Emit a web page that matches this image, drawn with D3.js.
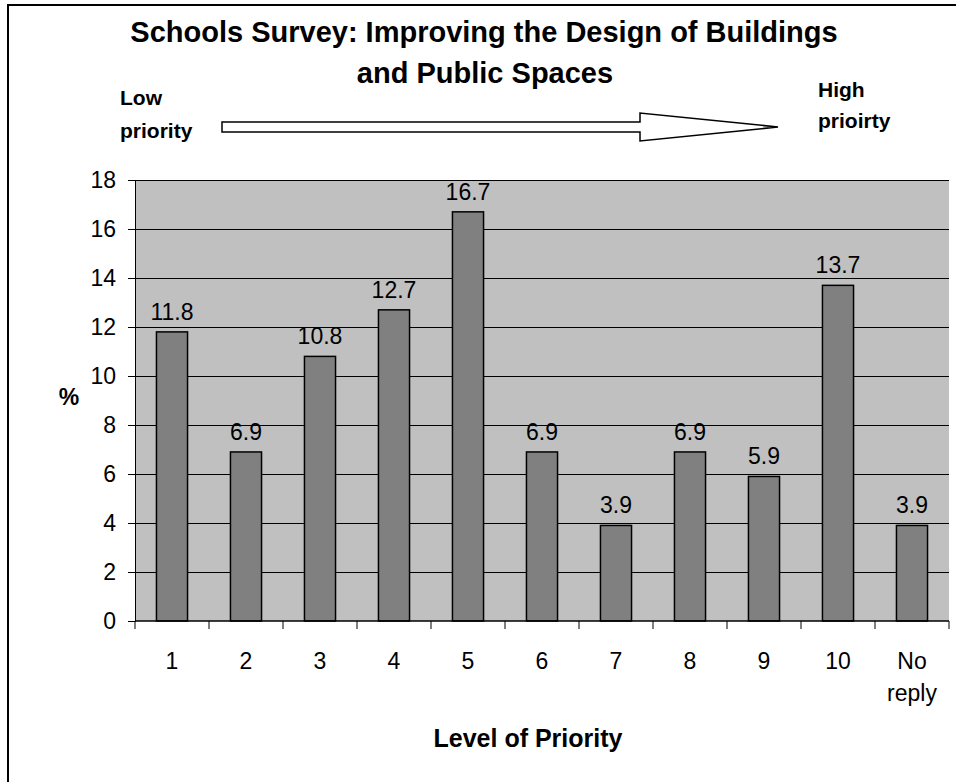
<!DOCTYPE html>
<html><head><meta charset="utf-8">
<script src="https://cdn.jsdelivr.net/npm/d3@7"></script>
<style>body{margin:0;background:#fff}svg{display:block}</style>
</head><body>
<script>
const categories = ["1","2","3","4","5","6","7","8","9","10","No reply"];
const values = [11.8, 6.9, 10.8, 12.7, 16.7, 6.9, 3.9, 6.9, 5.9, 13.7, 3.9];
const yTicks = [0,2,4,6,8,10,12,14,16,18];
const titleLines = ["Schools Survey: Improving the Design of Buildings", "and Public Spaces"];
const xTitle = "Level of Priority";
const yTitle = "%";

const W = 956, H = 782;
const FONT = "'Liberation Sans', Arial, sans-serif";
const svg = d3.select("body").append("svg").attr("width", W).attr("height", H)
  .style("font-family", FONT);

// outer frame
svg.append("line").attr("x1",8).attr("x2",8).attr("y1",5).attr("y2",H).attr("stroke","#000").attr("stroke-width",2);
svg.append("line").attr("x1",7).attr("x2",W).attr("y1",5).attr("y2",5).attr("stroke","#000").attr("stroke-width",2);

const L = 135, R = 949, T = 180, B = 621;
const x = d3.scaleBand().domain(categories).range([L, R]).paddingInner(0.58).paddingOuter(0.29);
const y = d3.scaleLinear().domain([0, 18]).range([B, T]);

// plot background
svg.append("rect").attr("x", L).attr("y", T).attr("width", R - L).attr("height", B - T).attr("fill", "#C0C0C0");

// gridlines
svg.append("g").selectAll("line").data(yTicks.filter(d => d > 0)).join("line")
  .attr("x1", L).attr("x2", R).attr("y1", d => y(d)).attr("y2", d => y(d))
  .attr("stroke", "#000").attr("stroke-width", 1).attr("shape-rendering", "crispEdges");

// y axis
const yAxis = svg.append("g").attr("transform", `translate(${L},0)`)
  .call(d3.axisLeft(y).tickValues(yTicks).tickSize(7).tickPadding(12));
yAxis.select(".domain").attr("stroke", "#000");
yAxis.selectAll("text").attr("font-size", 23).attr("font-family", FONT).attr("fill", "#000");

// bars
svg.append("g").selectAll("rect").data(values).join("rect")
  .attr("x", (d, i) => x(categories[i]))
  .attr("y", d => y(d))
  .attr("width", x.bandwidth())
  .attr("height", d => B - y(d))
  .attr("fill", "#808080").attr("stroke", "#000").attr("stroke-width", 1.5);

// value labels
svg.append("g").selectAll("text").data(values).join("text")
  .attr("x", (d, i) => x(categories[i]) + x.bandwidth() / 2)
  .attr("y", d => y(d) - 12)
  .attr("text-anchor", "middle").attr("font-size", 23).attr("fill", "#000")
  .text(d => d.toFixed(1));

// x axis line and ticks between categories
svg.append("line").attr("x1", L).attr("x2", R).attr("y1", B).attr("y2", B).attr("stroke", "#000").attr("stroke-width", 1.5);
const bounds = d3.range(categories.length + 1).map(i => L + i * x.step());
svg.append("g").selectAll("line").data(bounds).join("line")
  .attr("x1", d => d).attr("x2", d => d).attr("y1", B).attr("y2", B + 8)
  .attr("stroke", "#000").attr("stroke-width", 1);

// x labels
const xl = svg.append("g").selectAll("text").data(categories).join("text")
  .attr("x", d => x(d) + x.bandwidth() / 2)
  .attr("y", 669).attr("text-anchor", "middle").attr("font-size", 23).attr("fill", "#000");
xl.each(function(d) {
  const parts = d.split(" ");
  const t = d3.select(this);
  parts.forEach((p, k) => t.append("tspan").attr("x", t.attr("x")).attr("dy", k === 0 ? 0 : 32).text(p));
});

// axis titles
svg.append("text").attr("x", 528).attr("y", 747).attr("text-anchor", "middle")
  .attr("font-size", 25).attr("font-weight", "bold").text(xTitle);
svg.append("text").attr("x", 69).attr("y", 405).attr("text-anchor", "middle")
  .attr("font-size", 23).attr("font-weight", "bold").text(yTitle);

// title
svg.append("text").attr("x", 484).attr("y", 42).attr("text-anchor", "middle")
  .attr("font-size", 29).attr("font-weight", "bold").text(titleLines[0]);
svg.append("text").attr("x", 485).attr("y", 83).attr("text-anchor", "middle")
  .attr("font-size", 29).attr("font-weight", "bold").text(titleLines[1]);

// priority annotations
svg.append("text").attr("x", 120).attr("y", 105).attr("font-size", 21).attr("font-weight", "bold").text("Low");
svg.append("text").attr("x", 120).attr("y", 138).attr("font-size", 21).attr("font-weight", "bold").text("priority");
svg.append("text").attr("x", 818).attr("y", 97).attr("font-size", 21).attr("font-weight", "bold").text("High");
svg.append("text").attr("x", 818).attr("y", 128).attr("font-size", 21).attr("font-weight", "bold").text("prioirty");

// arrow
const arrowPts = [[222,122],[640,122],[640,113],[778,127],[640,141],[640,132],[222,132]];
svg.append("path").attr("d", d3.line()(arrowPts) + "Z")
  .attr("fill", "#fff").attr("stroke", "#000").attr("stroke-width", 1.5);
</script>
</body></html>
